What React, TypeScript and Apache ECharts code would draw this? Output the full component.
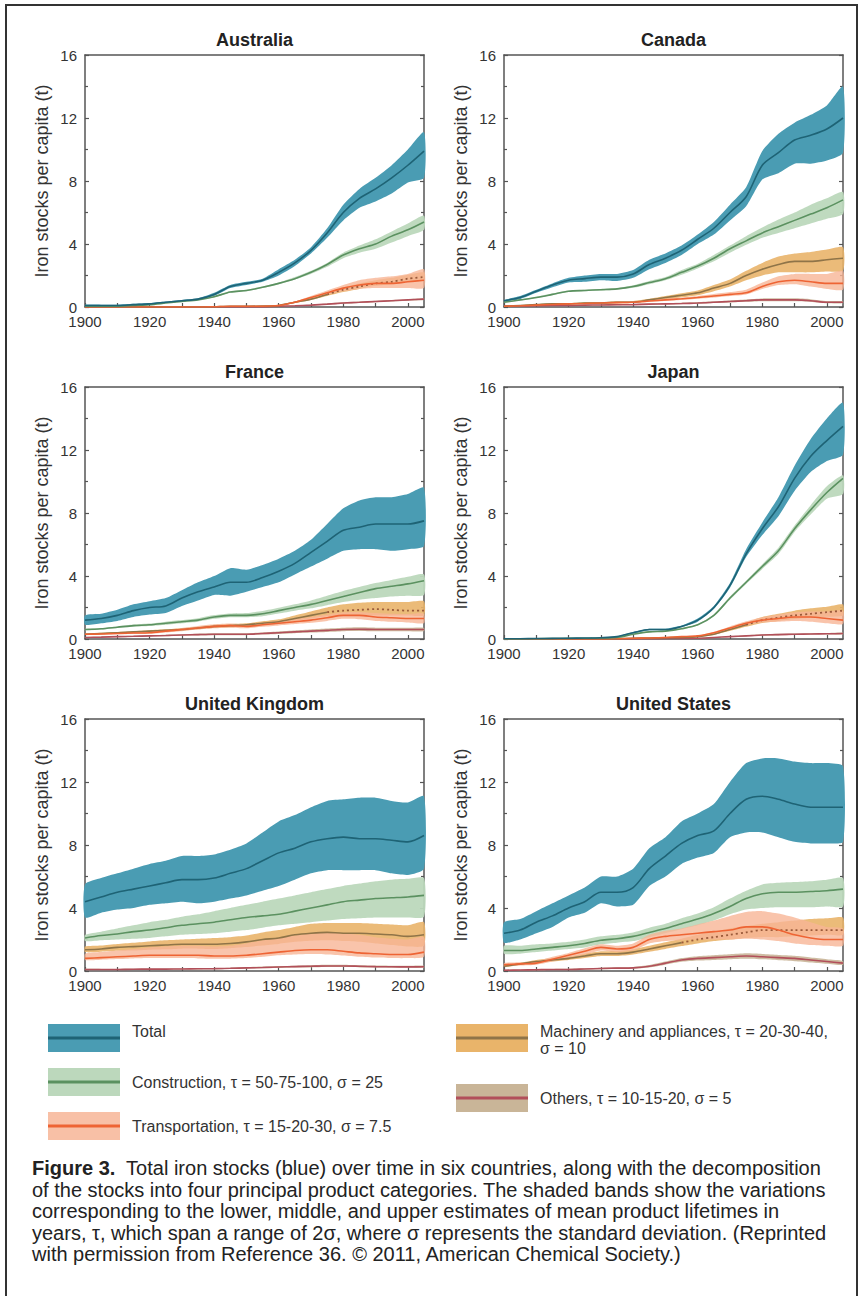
import { useEffect, useRef } from "react";
import * as echarts from "echarts";

// ---------- DATA ----------
const years = [1900, 1905, 1910, 1915, 1920, 1925, 1930, 1935, 1940, 1945, 1950, 1955, 1960, 1965, 1970, 1975, 1980, 1985, 1990, 1995, 2000, 2005];
const xLabelYears = [1900, 1920, 1940, 1960, 1980, 2000];
const xTickYears = [1900, 1910, 1920, 1930, 1940, 1950, 1960, 1970, 1980, 1990, 2000];
const countryNames = ["Australia", "Canada", "France", "Japan", "United Kingdom", "United States"];
const machineryDottedFrom = [1975, null, 1975, 1975, null, 1955];

// Australia
const ausTotalMid = [0.1, 0.1, 0.1, 0.15, 0.2, 0.3, 0.4, 0.5, 0.8, 1.3, 1.5, 1.7, 2.2, 2.8, 3.6, 4.7, 6.0, 6.9, 7.5, 8.2, 9.0, 9.9];
const ausTotalLow = [0.05, 0.05, 0.05, 0.1, 0.15, 0.25, 0.35, 0.45, 0.7, 1.2, 1.4, 1.6, 2.0, 2.6, 3.4, 4.4, 5.5, 6.3, 6.7, 7.2, 7.9, 8.2];
const ausTotalHigh = [0.15, 0.15, 0.15, 0.2, 0.25, 0.35, 0.45, 0.55, 0.9, 1.4, 1.6, 1.8, 2.4, 3.0, 3.8, 5.0, 6.5, 7.5, 8.2, 9.0, 10.0, 11.1];
const ausConsMid = [0.05, 0.05, 0.05, 0.1, 0.15, 0.25, 0.35, 0.45, 0.65, 0.95, 1.05, 1.25, 1.5, 1.8, 2.2, 2.7, 3.3, 3.7, 4.0, 4.5, 4.9, 5.4];
const ausConsLow = [0.05, 0.05, 0.05, 0.1, 0.15, 0.25, 0.35, 0.45, 0.6, 0.9, 1.0, 1.2, 1.45, 1.75, 2.1, 2.55, 3.1, 3.45, 3.7, 4.1, 4.5, 4.9];
const ausConsHigh = [0.05, 0.05, 0.05, 0.1, 0.15, 0.25, 0.35, 0.45, 0.7, 1.0, 1.1, 1.3, 1.55, 1.9, 2.3, 2.8, 3.45, 3.9, 4.3, 4.8, 5.3, 5.8];
const ausMachMid = [0, 0, 0, 0, 0, 0, 0, 0, 0.02, 0.05, 0.05, 0.06, 0.1, 0.3, 0.5, 0.8, 1.1, 1.3, 1.5, 1.6, 1.8, 1.9];
const ausMachLow = [0, 0, 0, 0, 0, 0, 0, 0, 0.01, 0.04, 0.04, 0.05, 0.08, 0.25, 0.45, 0.7, 0.95, 1.15, 1.35, 1.45, 1.6, 1.7];
const ausMachHigh = [0, 0, 0, 0, 0, 0, 0, 0, 0.03, 0.06, 0.06, 0.08, 0.13, 0.35, 0.6, 0.9, 1.25, 1.5, 1.7, 1.85, 2.05, 2.2];
const ausTransMid = [0, 0, 0, 0, 0, 0, 0, 0, 0.02, 0.05, 0.05, 0.05, 0.1, 0.3, 0.6, 0.9, 1.2, 1.4, 1.5, 1.5, 1.6, 1.7];
const ausTransLow = [0, 0, 0, 0, 0, 0, 0, 0, 0.01, 0.04, 0.04, 0.04, 0.08, 0.25, 0.5, 0.8, 1.0, 1.15, 1.2, 1.2, 1.2, 1.2];
const ausTransHigh = [0, 0, 0, 0, 0, 0, 0, 0, 0.03, 0.06, 0.06, 0.07, 0.15, 0.35, 0.7, 1.05, 1.4, 1.7, 1.85, 1.95, 2.1, 2.4];
const ausOthMid = [0, 0, 0, 0, 0, 0, 0, 0, 0, 0, 0, 0, 0.05, 0.08, 0.12, 0.18, 0.25, 0.3, 0.35, 0.4, 0.45, 0.5];
const ausOthLow = [0, 0, 0, 0, 0, 0, 0, 0, 0, 0, 0, 0, 0.03, 0.06, 0.09, 0.14, 0.2, 0.25, 0.3, 0.35, 0.4, 0.44];
const ausOthHigh = [0, 0, 0, 0, 0, 0, 0, 0, 0, 0, 0, 0, 0.07, 0.1, 0.15, 0.22, 0.3, 0.35, 0.4, 0.45, 0.5, 0.56];

// Canada
const canTotalMid = [0.4, 0.6, 1.0, 1.4, 1.7, 1.8, 1.9, 1.9, 2.1, 2.7, 3.1, 3.6, 4.3, 5.0, 6.0, 7.0, 9.0, 9.8, 10.6, 10.9, 11.3, 12.0];
const canTotalLow = [0.35, 0.5, 0.9, 1.25, 1.55, 1.6, 1.7, 1.65, 1.85, 2.4, 2.8, 3.3, 4.0, 4.6, 5.5, 6.4, 8.1, 8.5, 9.1, 9.1, 9.3, 9.8];
const canTotalHigh = [0.45, 0.7, 1.1, 1.5, 1.85, 2.0, 2.1, 2.1, 2.35, 3.0, 3.4, 3.9, 4.6, 5.4, 6.5, 7.6, 9.9, 11.0, 11.7, 12.2, 12.8, 14.0];
const canConsMid = [0.3, 0.45, 0.6, 0.8, 1.0, 1.05, 1.1, 1.15, 1.3, 1.55, 1.8, 2.2, 2.6, 3.1, 3.7, 4.2, 4.7, 5.1, 5.5, 5.9, 6.3, 6.8];
const canConsLow = [0.28, 0.42, 0.56, 0.75, 0.95, 1.0, 1.05, 1.1, 1.22, 1.45, 1.7, 2.05, 2.45, 2.9, 3.45, 3.95, 4.4, 4.7, 5.0, 5.3, 5.6, 5.9];
const canConsHigh = [0.32, 0.48, 0.65, 0.85, 1.05, 1.1, 1.15, 1.2, 1.38, 1.65, 1.9, 2.35, 2.75, 3.3, 3.9, 4.5, 5.05, 5.55, 6.0, 6.5, 6.9, 7.3];
const canMachMid = [0.05, 0.1, 0.15, 0.2, 0.2, 0.25, 0.25, 0.3, 0.3, 0.45, 0.6, 0.75, 0.9, 1.2, 1.5, 2.0, 2.4, 2.7, 2.9, 2.9, 3.0, 3.1];
const canMachLow = [0.04, 0.08, 0.12, 0.16, 0.17, 0.2, 0.2, 0.24, 0.25, 0.38, 0.5, 0.62, 0.75, 1.0, 1.3, 1.7, 2.0, 2.2, 2.2, 2.2, 2.25, 2.3];
const canMachHigh = [0.06, 0.12, 0.18, 0.24, 0.25, 0.3, 0.3, 0.36, 0.38, 0.52, 0.7, 0.88, 1.05, 1.4, 1.75, 2.3, 2.8, 3.2, 3.4, 3.5, 3.65, 3.8];
const canTransMid = [0.05, 0.08, 0.12, 0.16, 0.2, 0.22, 0.25, 0.28, 0.3, 0.38, 0.45, 0.52, 0.6, 0.7, 0.8, 0.9, 1.3, 1.6, 1.7, 1.6, 1.5, 1.5];
const canTransLow = [0.04, 0.06, 0.1, 0.13, 0.17, 0.18, 0.21, 0.23, 0.25, 0.32, 0.38, 0.44, 0.52, 0.6, 0.7, 0.8, 1.15, 1.4, 1.45, 1.3, 1.15, 1.1];
const canTransHigh = [0.06, 0.1, 0.14, 0.19, 0.23, 0.26, 0.29, 0.33, 0.36, 0.44, 0.52, 0.6, 0.7, 0.82, 0.95, 1.1, 1.55, 1.95, 2.1, 2.1, 2.1, 2.3];
const canOthMid = [0.05, 0.06, 0.08, 0.1, 0.1, 0.12, 0.13, 0.14, 0.15, 0.18, 0.2, 0.22, 0.25, 0.3, 0.35, 0.4, 0.45, 0.45, 0.45, 0.4, 0.3, 0.3];
const canOthLow = [0.04, 0.05, 0.06, 0.08, 0.08, 0.1, 0.1, 0.11, 0.12, 0.14, 0.16, 0.18, 0.2, 0.25, 0.29, 0.33, 0.37, 0.37, 0.36, 0.32, 0.24, 0.24];
const canOthHigh = [0.06, 0.07, 0.1, 0.12, 0.13, 0.15, 0.16, 0.17, 0.19, 0.22, 0.25, 0.27, 0.31, 0.36, 0.42, 0.48, 0.54, 0.55, 0.55, 0.5, 0.38, 0.37];

// France
const fraTotalMid = [1.2, 1.3, 1.5, 1.8, 2.0, 2.1, 2.6, 3.0, 3.3, 3.6, 3.6, 3.9, 4.3, 4.8, 5.5, 6.2, 6.9, 7.1, 7.3, 7.3, 7.3, 7.5];
const fraTotalLow = [0.9, 1.0, 1.15, 1.4, 1.55, 1.65, 2.1, 2.45, 2.8, 2.75, 3.0, 3.3, 3.6, 4.1, 4.6, 5.1, 5.6, 5.7, 5.7, 5.6, 5.7, 5.9];
const fraTotalHigh = [1.5, 1.6, 1.85, 2.2, 2.4, 2.6, 3.1, 3.6, 4.0, 4.5, 4.4, 4.7, 5.1, 5.6, 6.3, 7.3, 8.3, 8.8, 9.0, 9.0, 9.2, 9.6];
const fraConsMid = [0.6, 0.65, 0.75, 0.85, 0.9, 1.0, 1.1, 1.2, 1.4, 1.5, 1.5, 1.6, 1.8, 2.0, 2.2, 2.45, 2.7, 2.95, 3.2, 3.35, 3.5, 3.7];
const fraConsLow = [0.55, 0.6, 0.7, 0.78, 0.82, 0.9, 1.0, 1.1, 1.28, 1.38, 1.38, 1.45, 1.62, 1.8, 1.95, 2.15, 2.35, 2.5, 2.6, 2.7, 2.75, 2.8];
const fraConsHigh = [0.65, 0.7, 0.8, 0.92, 0.98, 1.1, 1.2, 1.32, 1.52, 1.62, 1.65, 1.78, 1.98, 2.2, 2.45, 2.75, 3.05, 3.3, 3.55, 3.75, 3.95, 4.1];
const fraMachMid = [0.3, 0.35, 0.4, 0.45, 0.5, 0.55, 0.6, 0.7, 0.8, 0.85, 0.9, 1.0, 1.1, 1.3, 1.5, 1.7, 1.8, 1.85, 1.9, 1.85, 1.8, 1.8];
const fraMachLow = [0.27, 0.31, 0.35, 0.4, 0.44, 0.48, 0.53, 0.62, 0.7, 0.75, 0.8, 0.88, 0.97, 1.15, 1.3, 1.45, 1.5, 1.5, 1.5, 1.5, 1.5, 1.5];
const fraMachHigh = [0.33, 0.39, 0.45, 0.5, 0.56, 0.62, 0.68, 0.78, 0.9, 0.95, 1.0, 1.12, 1.25, 1.5, 1.75, 2.0, 2.2, 2.3, 2.35, 2.35, 2.35, 2.4];
const fraTransMid = [0.3, 0.32, 0.35, 0.38, 0.4, 0.5, 0.6, 0.7, 0.8, 0.85, 0.8, 0.9, 1.0, 1.1, 1.2, 1.35, 1.5, 1.5, 1.4, 1.35, 1.3, 1.3];
const fraTransLow = [0.25, 0.27, 0.3, 0.32, 0.34, 0.42, 0.5, 0.6, 0.68, 0.72, 0.68, 0.77, 0.86, 0.95, 1.03, 1.15, 1.28, 1.25, 1.15, 1.1, 1.05, 1.0];
const fraTransHigh = [0.35, 0.37, 0.41, 0.44, 0.47, 0.58, 0.7, 0.82, 0.93, 0.98, 0.93, 1.04, 1.16, 1.28, 1.4, 1.55, 1.7, 1.72, 1.65, 1.6, 1.58, 1.6];
const fraOthMid = [0.1, 0.12, 0.15, 0.17, 0.2, 0.22, 0.25, 0.28, 0.3, 0.3, 0.3, 0.35, 0.4, 0.45, 0.5, 0.55, 0.6, 0.62, 0.6, 0.6, 0.6, 0.6];
const fraOthLow = [0.07, 0.09, 0.11, 0.13, 0.16, 0.17, 0.2, 0.22, 0.24, 0.24, 0.24, 0.28, 0.32, 0.37, 0.41, 0.45, 0.5, 0.51, 0.49, 0.49, 0.49, 0.49];
const fraOthHigh = [0.13, 0.15, 0.19, 0.21, 0.24, 0.27, 0.3, 0.34, 0.36, 0.36, 0.37, 0.42, 0.48, 0.54, 0.6, 0.66, 0.71, 0.74, 0.72, 0.72, 0.72, 0.72];

// Japan
const japTotalMid = [0.02, 0.02, 0.03, 0.04, 0.05, 0.06, 0.08, 0.15, 0.4, 0.6, 0.6, 0.8, 1.2, 2.0, 3.4, 5.4, 7.0, 8.4, 10.2, 11.6, 12.6, 13.5];
const japTotalLow = [0.02, 0.02, 0.03, 0.04, 0.05, 0.06, 0.07, 0.13, 0.35, 0.55, 0.55, 0.75, 1.1, 1.9, 3.25, 5.2, 6.6, 7.8, 9.4, 10.6, 11.3, 11.7];
const japTotalHigh = [0.02, 0.02, 0.03, 0.04, 0.05, 0.06, 0.09, 0.17, 0.45, 0.65, 0.65, 0.85, 1.3, 2.1, 3.55, 5.7, 7.4, 9.0, 11.0, 12.7, 14.0, 15.0];
const japConsMid = [0.01, 0.01, 0.02, 0.03, 0.04, 0.05, 0.06, 0.1, 0.3, 0.45, 0.5, 0.65, 0.9, 1.5, 2.6, 3.6, 4.6, 5.6, 7.0, 8.2, 9.3, 10.2];
const japConsLow = [0.01, 0.01, 0.02, 0.03, 0.04, 0.05, 0.06, 0.09, 0.28, 0.43, 0.48, 0.62, 0.86, 1.45, 2.5, 3.5, 4.45, 5.4, 6.8, 7.9, 8.9, 9.2];
const japConsHigh = [0.01, 0.01, 0.02, 0.03, 0.04, 0.05, 0.06, 0.11, 0.32, 0.47, 0.52, 0.68, 0.94, 1.55, 2.7, 3.7, 4.75, 5.8, 7.2, 8.5, 9.7, 10.4];
const japMachMid = [0, 0, 0, 0, 0, 0, 0, 0.02, 0.05, 0.06, 0.08, 0.1, 0.15, 0.3, 0.6, 0.9, 1.2, 1.35, 1.5, 1.6, 1.7, 1.8];
const japMachLow = [0, 0, 0, 0, 0, 0, 0, 0.02, 0.04, 0.05, 0.07, 0.08, 0.13, 0.26, 0.52, 0.78, 1.02, 1.15, 1.27, 1.35, 1.42, 1.5];
const japMachHigh = [0, 0, 0, 0, 0, 0, 0, 0.03, 0.06, 0.07, 0.1, 0.12, 0.18, 0.36, 0.72, 1.05, 1.4, 1.6, 1.8, 1.95, 2.05, 2.2];
const japTransMid = [0, 0, 0, 0, 0, 0, 0, 0.02, 0.05, 0.06, 0.1, 0.15, 0.2, 0.4, 0.7, 1.0, 1.2, 1.3, 1.4, 1.4, 1.3, 1.2];
const japTransLow = [0, 0, 0, 0, 0, 0, 0, 0.01, 0.04, 0.05, 0.08, 0.12, 0.17, 0.34, 0.6, 0.88, 1.05, 1.1, 1.15, 1.1, 1.0, 0.95];
const japTransHigh = [0, 0, 0, 0, 0, 0, 0, 0.03, 0.06, 0.07, 0.12, 0.18, 0.23, 0.46, 0.8, 1.12, 1.38, 1.55, 1.7, 1.75, 1.75, 1.8];
const japOthMid = [0, 0, 0, 0, 0, 0, 0, 0, 0.01, 0.02, 0.03, 0.04, 0.05, 0.1, 0.15, 0.2, 0.25, 0.28, 0.3, 0.32, 0.33, 0.35];
const japOthLow = [0, 0, 0, 0, 0, 0, 0, 0, 0.01, 0.01, 0.02, 0.03, 0.04, 0.08, 0.12, 0.16, 0.2, 0.23, 0.25, 0.27, 0.28, 0.29];
const japOthHigh = [0, 0, 0, 0, 0, 0, 0, 0, 0.02, 0.03, 0.04, 0.05, 0.07, 0.12, 0.18, 0.24, 0.3, 0.33, 0.35, 0.37, 0.38, 0.41];

// United Kingdom
const gbrTotalMid = [4.4, 4.7, 5.0, 5.2, 5.4, 5.6, 5.8, 5.8, 5.9, 6.2, 6.5, 7.0, 7.5, 7.8, 8.2, 8.4, 8.5, 8.4, 8.4, 8.3, 8.2, 8.6];
const gbrTotalLow = [3.4, 3.7, 3.9, 4.0, 4.2, 4.3, 4.4, 4.3, 4.4, 4.6, 4.8, 5.1, 5.4, 5.8, 6.2, 6.4, 6.4, 6.4, 6.4, 6.2, 6.1, 6.5];
const gbrTotalHigh = [5.5, 5.9, 6.2, 6.5, 6.8, 7.0, 7.3, 7.3, 7.4, 7.7, 8.1, 8.8, 9.5, 9.9, 10.4, 10.8, 10.9, 11.0, 11.0, 10.8, 10.7, 11.1];
const gbrConsMid = [2.1, 2.25, 2.35, 2.5, 2.6, 2.75, 2.9, 3.0, 3.1, 3.25, 3.4, 3.5, 3.6, 3.8, 4.0, 4.2, 4.4, 4.5, 4.6, 4.65, 4.7, 4.8];
const gbrConsLow = [1.9, 1.95, 2.0, 2.05, 2.1, 2.2, 2.3, 2.35, 2.4, 2.5, 2.6, 2.75, 2.9, 3.0, 3.1, 3.2, 3.3, 3.35, 3.4, 3.4, 3.4, 3.45];
const gbrConsHigh = [2.3, 2.5, 2.7, 2.9, 3.1, 3.25, 3.45, 3.6, 3.8, 4.0, 4.2, 4.4, 4.6, 4.8, 5.0, 5.2, 5.4, 5.55, 5.7, 5.8, 5.85, 5.9];
const gbrMachMid = [1.35, 1.4, 1.5, 1.55, 1.6, 1.65, 1.7, 1.7, 1.7, 1.75, 1.85, 2.0, 2.1, 2.3, 2.4, 2.45, 2.4, 2.4, 2.35, 2.3, 2.2, 2.3];
const gbrMachLow = [1.2, 1.22, 1.28, 1.3, 1.35, 1.38, 1.42, 1.42, 1.4, 1.45, 1.52, 1.62, 1.72, 1.85, 1.92, 1.95, 1.9, 1.85, 1.75, 1.65, 1.55, 1.6];
const gbrMachHigh = [1.55, 1.62, 1.72, 1.8, 1.88, 1.95, 2.0, 2.05, 2.1, 2.15, 2.25, 2.45, 2.6, 2.8, 3.0, 3.05, 3.05, 3.05, 3.0, 2.95, 2.9, 3.1];
const gbrTransMid = [0.8, 0.85, 0.9, 0.95, 1.0, 1.0, 1.0, 1.0, 0.95, 0.95, 1.0, 1.1, 1.2, 1.3, 1.35, 1.35, 1.25, 1.15, 1.1, 1.05, 1.05, 1.2];
const gbrTransLow = [0.7, 0.72, 0.76, 0.8, 0.82, 0.82, 0.82, 0.8, 0.78, 0.78, 0.82, 0.9, 1.0, 1.05, 1.08, 1.05, 0.98, 0.9, 0.85, 0.82, 0.82, 0.9];
const gbrTransHigh = [1.1, 1.2, 1.3, 1.4, 1.5, 1.55, 1.6, 1.6, 1.55, 1.6, 1.75, 1.95, 2.1, 2.25, 2.4, 2.45, 2.4, 2.3, 2.15, 2.05, 2.0, 2.15];
const gbrOthMid = [0.1, 0.1, 0.1, 0.11, 0.12, 0.12, 0.13, 0.14, 0.15, 0.17, 0.2, 0.22, 0.25, 0.28, 0.3, 0.32, 0.32, 0.3, 0.28, 0.27, 0.26, 0.27];
const gbrOthLow = [0.07, 0.07, 0.07, 0.08, 0.09, 0.09, 0.1, 0.1, 0.11, 0.13, 0.15, 0.17, 0.19, 0.22, 0.23, 0.25, 0.25, 0.23, 0.22, 0.21, 0.2, 0.21];
const gbrOthHigh = [0.13, 0.13, 0.13, 0.14, 0.15, 0.15, 0.16, 0.18, 0.19, 0.21, 0.25, 0.28, 0.31, 0.34, 0.37, 0.39, 0.4, 0.37, 0.35, 0.34, 0.33, 0.34];

// United States
const usaTotalMid = [2.4, 2.6, 3.1, 3.5, 4.0, 4.4, 5.0, 5.0, 5.3, 6.5, 7.3, 8.1, 8.6, 8.9, 10.0, 10.9, 11.1, 10.9, 10.6, 10.4, 10.4, 10.4];
const usaTotalLow = [1.8, 2.0, 2.4, 2.8, 3.4, 3.7, 4.3, 4.1, 4.2, 5.4, 6.0, 6.8, 7.2, 7.5, 8.5, 8.8, 8.8, 8.5, 8.2, 8.1, 8.1, 8.2];
const usaTotalHigh = [3.1, 3.3, 3.8, 4.3, 4.8, 5.3, 6.0, 6.0, 6.5, 7.8, 8.5, 9.5, 10.0, 10.6, 12.0, 13.2, 13.5, 13.5, 13.3, 13.2, 13.2, 13.0];
const usaConsMid = [1.3, 1.3, 1.4, 1.5, 1.6, 1.75, 1.95, 2.05, 2.2, 2.45, 2.7, 3.0, 3.3, 3.65, 4.1, 4.6, 4.9, 5.0, 5.0, 5.05, 5.1, 5.2];
const usaConsLow = [1.1, 1.1, 1.2, 1.3, 1.4, 1.5, 1.7, 1.8, 1.9, 2.15, 2.4, 2.65, 2.9, 3.2, 3.6, 3.9, 4.0, 4.05, 4.05, 4.05, 4.1, 4.1];
const usaConsHigh = [1.6, 1.6, 1.7, 1.75, 1.85, 2.0, 2.2, 2.3, 2.45, 2.75, 3.0, 3.35, 3.65, 4.05, 4.6, 5.1, 5.5, 5.6, 5.65, 5.7, 5.8, 5.9];
const usaMachMid = [0.3, 0.45, 0.6, 0.7, 0.8, 0.95, 1.1, 1.1, 1.2, 1.4, 1.6, 1.8, 2.0, 2.15, 2.3, 2.45, 2.6, 2.6, 2.6, 2.6, 2.6, 2.6];
const usaMachLow = [0.25, 0.38, 0.5, 0.6, 0.7, 0.82, 0.95, 0.95, 1.05, 1.22, 1.4, 1.58, 1.75, 1.9, 2.0, 2.1, 2.15, 2.15, 2.2, 2.25, 2.3, 2.3];
const usaMachHigh = [0.36, 0.52, 0.7, 0.82, 0.92, 1.1, 1.25, 1.27, 1.38, 1.6, 1.82, 2.05, 2.3, 2.5, 2.7, 2.85, 3.0, 3.1, 3.2, 3.3, 3.35, 3.4];
const usaTransMid = [0.4, 0.45, 0.5, 0.75, 1.0, 1.25, 1.5, 1.4, 1.5, 2.0, 2.2, 2.3, 2.4, 2.5, 2.6, 2.8, 2.8, 2.6, 2.3, 2.1, 2.0, 2.0];
const usaTransLow = [0.3, 0.35, 0.4, 0.6, 0.85, 1.05, 1.3, 1.2, 1.3, 1.75, 1.9, 1.95, 2.0, 2.0, 2.0, 2.05, 2.0, 1.9, 1.75, 1.65, 1.6, 1.6];
const usaTransHigh = [0.5, 0.55, 0.62, 0.9, 1.15, 1.45, 1.7, 1.6, 1.75, 2.3, 2.55, 2.7, 2.95, 3.2, 3.5, 3.75, 3.8, 3.65, 3.4, 3.1, 2.8, 2.7];
const usaOthMid = [0.05, 0.06, 0.08, 0.1, 0.1, 0.13, 0.16, 0.18, 0.2, 0.3, 0.5, 0.7, 0.8, 0.85, 0.9, 0.95, 0.9, 0.85, 0.8, 0.7, 0.6, 0.5];
const usaOthLow = [0.03, 0.04, 0.05, 0.07, 0.07, 0.09, 0.11, 0.13, 0.15, 0.22, 0.4, 0.58, 0.66, 0.7, 0.75, 0.78, 0.74, 0.68, 0.62, 0.54, 0.46, 0.38];
const usaOthHigh = [0.07, 0.08, 0.11, 0.13, 0.14, 0.17, 0.21, 0.24, 0.26, 0.38, 0.6, 0.82, 0.94, 1.0, 1.06, 1.12, 1.08, 1.02, 0.97, 0.86, 0.75, 0.64];

const legendLabels = [
  "Total",
  "Construction, τ = 50-75-100, σ = 25",
  "Transportation, τ = 15-20-30, σ = 7.5",
  "Machinery and appliances, τ = 20-30-40,\nσ = 10",
  "Others, τ = 10-15-20, σ = 5",
];
const captionLines = [
  "Total iron stocks (blue) over time in six countries, along with the decomposition",
  "of the stocks into four principal product categories. The shaded bands show the variations",
  "corresponding to the lower, middle, and upper estimates of mean product lifetimes in",
  "years, τ, which span a range of 2σ, where σ represents the standard deviation. (Reprinted",
  "with permission from Reference 36. © 2011, American Chemical Society.)",
];

// ---------- STYLES ----------
const FONT = '"Liberation Sans", Arial, Helvetica, sans-serif';
const STYLE = {
  total: { band: "#4a9cb3", line: "#1e6375", op: 1 },
  cons: { band: "#bcd8bc", line: "#5b9160", op: 0.95 },
  mach: { band: "#e9b46a", line: "#8f7448", op: 0.9 },
  trans: { band: "#f7b596", line: "#ee6434", op: 0.8 },
  oth: { band: "#c9b598", line: "#b24f5a", op: 0.9 },
};
const DOT_COLOR = "#9a5a3a";

type Trio = number[][];
const countryData: Record<string, Trio>[] = [
  { total: [ausTotalMid, ausTotalLow, ausTotalHigh], cons: [ausConsMid, ausConsLow, ausConsHigh], mach: [ausMachMid, ausMachLow, ausMachHigh], trans: [ausTransMid, ausTransLow, ausTransHigh], oth: [ausOthMid, ausOthLow, ausOthHigh] },
  { total: [canTotalMid, canTotalLow, canTotalHigh], cons: [canConsMid, canConsLow, canConsHigh], mach: [canMachMid, canMachLow, canMachHigh], trans: [canTransMid, canTransLow, canTransHigh], oth: [canOthMid, canOthLow, canOthHigh] },
  { total: [fraTotalMid, fraTotalLow, fraTotalHigh], cons: [fraConsMid, fraConsLow, fraConsHigh], mach: [fraMachMid, fraMachLow, fraMachHigh], trans: [fraTransMid, fraTransLow, fraTransHigh], oth: [fraOthMid, fraOthLow, fraOthHigh] },
  { total: [japTotalMid, japTotalLow, japTotalHigh], cons: [japConsMid, japConsLow, japConsHigh], mach: [japMachMid, japMachLow, japMachHigh], trans: [japTransMid, japTransLow, japTransHigh], oth: [japOthMid, japOthLow, japOthHigh] },
  { total: [gbrTotalMid, gbrTotalLow, gbrTotalHigh], cons: [gbrConsMid, gbrConsLow, gbrConsHigh], mach: [gbrMachMid, gbrMachLow, gbrMachHigh], trans: [gbrTransMid, gbrTransLow, gbrTransHigh], oth: [gbrOthMid, gbrOthLow, gbrOthHigh] },
  { total: [usaTotalMid, usaTotalLow, usaTotalHigh], cons: [usaConsMid, usaConsLow, usaConsHigh], mach: [usaMachMid, usaMachLow, usaMachHigh], trans: [usaTransMid, usaTransLow, usaTransHigh], oth: [usaOthMid, usaOthLow, usaOthHigh] },
];

const GRID_LEFT = [85, 504];
const GRID_TOP = [55, 387, 719];
const GRID_W = 339;
const GRID_H = 252;

function bandRenderer(color: string, opacity: number) {
  return (params: any, api: any) => {
    if (params.dataIndexInside !== 0) return null;
    const n = params.dataInsideLength;
    const lower: number[][] = [];
    const upper: number[][] = [];
    for (let j = 0; j < n; j++) {
      const x = api.value(0, j);
      lower.push(api.coord([x, api.value(1, j)]));
      upper.push(api.coord([x, api.value(2, j)]));
    }
    const pts = lower.concat(upper.reverse());
    return {
      type: "polygon",
      shape: { points: pts, smooth: 0.2 },
      style: { fill: color, opacity },
      silent: true,
    };
  };
}

function buildOption() {
  const grid: any[] = [];
  const xAxis: any[] = [];
  const yAxis: any[] = [];
  const series: any[] = [];
  const graphic: any[] = [];

  countryNames.forEach((name, ci) => {
    const col = ci % 2;
    const row = Math.floor(ci / 2);
    const left = GRID_LEFT[col];
    const top = GRID_TOP[row];
    grid.push({ left, top, width: GRID_W, height: GRID_H, containLabel: false });
    const axisLine = { show: true, onZero: false, lineStyle: { color: "#555", width: 1.5 } };
    xAxis.push({
      type: "value", gridIndex: ci, min: 1900, max: 2005, interval: 20, position: "bottom",
      axisLine,
      axisTick: { show: true, inside: true, length: 4, customValues: xTickYears, lineStyle: { color: "#555", width: 1.2 } },
      axisLabel: { customValues: xLabelYears, fontSize: 15, color: "#333", margin: 7, fontFamily: FONT, formatter: (v: number) => (v > 2000 ? "" : String(v)) },
      splitLine: { show: false },
    });
    xAxis.push({
      type: "value", gridIndex: ci, min: 1900, max: 2005, interval: 20, position: "top",
      axisLine, axisTick: { show: false }, axisLabel: { show: false }, splitLine: { show: false },
    });
    yAxis.push({
      type: "value", gridIndex: ci, min: 0, max: 16, interval: 4, position: "left",
      axisLine,
      axisTick: { show: true, inside: true, length: 4, lineStyle: { color: "#555", width: 1.2 } },
      minorTick: { show: true, splitNumber: 2, length: 3, lineStyle: { color: "#555", width: 1.2 } },
      axisLabel: { fontSize: 15, color: "#333", margin: 8, fontFamily: FONT },
      splitLine: { show: false },
      name: "Iron stocks per capita (t)", nameLocation: "middle", nameGap: 34, nameRotate: 90,
      nameTextStyle: { fontSize: 18, color: "#333", fontFamily: FONT },
    });
    yAxis.push({
      type: "value", gridIndex: ci, min: 0, max: 16, interval: 4, position: "right",
      axisLine,
      axisTick: { show: true, inside: true, length: 4, lineStyle: { color: "#555", width: 1.2 } },
      minorTick: { show: true, splitNumber: 2, length: 3, lineStyle: { color: "#555", width: 1.2 } },
      axisLabel: { show: false }, splitLine: { show: false },
    });

    graphic.push({
      type: "text", x: left + GRID_W / 2, y: top - 15,
      style: { text: name, font: `bold 18px ${FONT}`, fill: "#222", align: "center", verticalAlign: "middle", textAlign: "center", textVerticalAlign: "middle" },
    });

    const d = countryData[ci];
    const axisIdx = { xAxisIndex: ci * 2, yAxisIndex: ci * 2 };
    (["total", "cons", "mach", "trans", "oth"] as const).forEach((k, bi) => {
      const [, lo, hi] = d[k];
      series.push({
        type: "custom", ...axisIdx, silent: true, z: 1 + bi * 0.01,
        encode: { x: 0, y: [1, 2] },
        data: years.map((yr, i) => [yr, lo[i], hi[i]]),
        renderItem: bandRenderer(STYLE[k].band, STYLE[k].op),
      });
    });
    const lineSeries = (data: number[][], color: string, dashed = false) => ({
      type: "line", ...axisIdx, data, symbol: "none", smooth: 0.3, silent: true, z: 3,
      lineStyle: { color, width: dashed ? 1.8 : 1.6, type: dashed ? [2, 3] : "solid" },
    });
    const pairs = (arr: number[]) => years.map((yr, i) => [yr, arr[i]]);
    series.push(lineSeries(pairs(d.oth[0]), STYLE.oth.line));
    const dotFrom = machineryDottedFrom[ci];
    if (dotFrom == null) {
      series.push(lineSeries(pairs(d.mach[0]), STYLE.mach.line));
    } else {
      const all = pairs(d.mach[0]);
      series.push(lineSeries(all.filter((p) => p[0] <= dotFrom), STYLE.mach.line));
      series.push(lineSeries(all.filter((p) => p[0] >= dotFrom), DOT_COLOR, true));
    }
    series.push(lineSeries(pairs(d.trans[0]), STYLE.trans.line));
    series.push(lineSeries(pairs(d.cons[0]), STYLE.cons.line));
    series.push(lineSeries(pairs(d.total[0]), STYLE.total.line));
  });

  // legend
  const legendItems = [
    { k: "total", x: 48, y: 1024, label: legendLabels[0], ty: 1031 },
    { k: "cons", x: 48, y: 1068, label: legendLabels[1], ty: 1082 },
    { k: "trans", x: 48, y: 1112, label: legendLabels[2], ty: 1126 },
    { k: "mach", x: 456, y: 1024, label: legendLabels[3], ty: 1031 },
    { k: "oth", x: 456, y: 1084, label: legendLabels[4], ty: 1098 },
  ] as const;
  legendItems.forEach((it) => {
    const s = (STYLE as any)[it.k];
    graphic.push({ type: "rect", x: it.x, y: it.y, shape: { x: 0, y: 0, width: 72, height: 28 }, style: { fill: s.band, opacity: it.k === "trans" ? 0.85 : 1 } });
    graphic.push({ type: "line", x: it.x, y: it.y, shape: { x1: 0, y1: 14, x2: 72, y2: 14 }, style: { stroke: s.line, lineWidth: 3 } });
    const multi = it.label.includes("\n");
    graphic.push({
      type: "text", x: it.x + 84, y: multi ? it.ty - 8 : it.ty,
      style: { text: it.label, font: `16px ${FONT}`, fill: "#333", lineHeight: 17, align: "left", verticalAlign: multi ? "top" : "middle", textAlign: "left", textVerticalAlign: multi ? "top" : "middle" },
    });
  });

  // caption
  captionLines.forEach((line, i) => {
    graphic.push({
      type: "text", x: 32, y: 1168 + i * 21.5,
      style: {
        text: i === 0 ? `{b|Figure 3.}  ${line}` : line,
        font: `20px ${FONT}`, fill: "#222", align: "left", verticalAlign: "middle", textAlign: "left", textVerticalAlign: "middle",
        rich: { b: { fontWeight: "bold", fontSize: 20, fontFamily: FONT, fill: "#222" } },
      },
    });
  });

  // outer border
  graphic.push({ type: "rect", x: 6, y: 5, shape: { x: 0, y: 0, width: 851, height: 1300 }, style: { fill: "none", stroke: "#333", lineWidth: 2 }, z: 100 });

  return {
    animation: false,
    backgroundColor: "#ffffff",
    textStyle: { fontFamily: FONT },
    grid, xAxis, yAxis, series, graphic,
  };
}

export default function App() {
  const ref = useRef<HTMLDivElement>(null);
  useEffect(() => {
    const chart = echarts.init(ref.current!, null, { renderer: "svg" });
    chart.setOption(buildOption() as any);
    return () => chart.dispose();
  }, []);
  return <div ref={ref} style={{ position: "absolute", left: 0, top: 0, width: 861, height: 1296, background: "#fff" }} />;
}
